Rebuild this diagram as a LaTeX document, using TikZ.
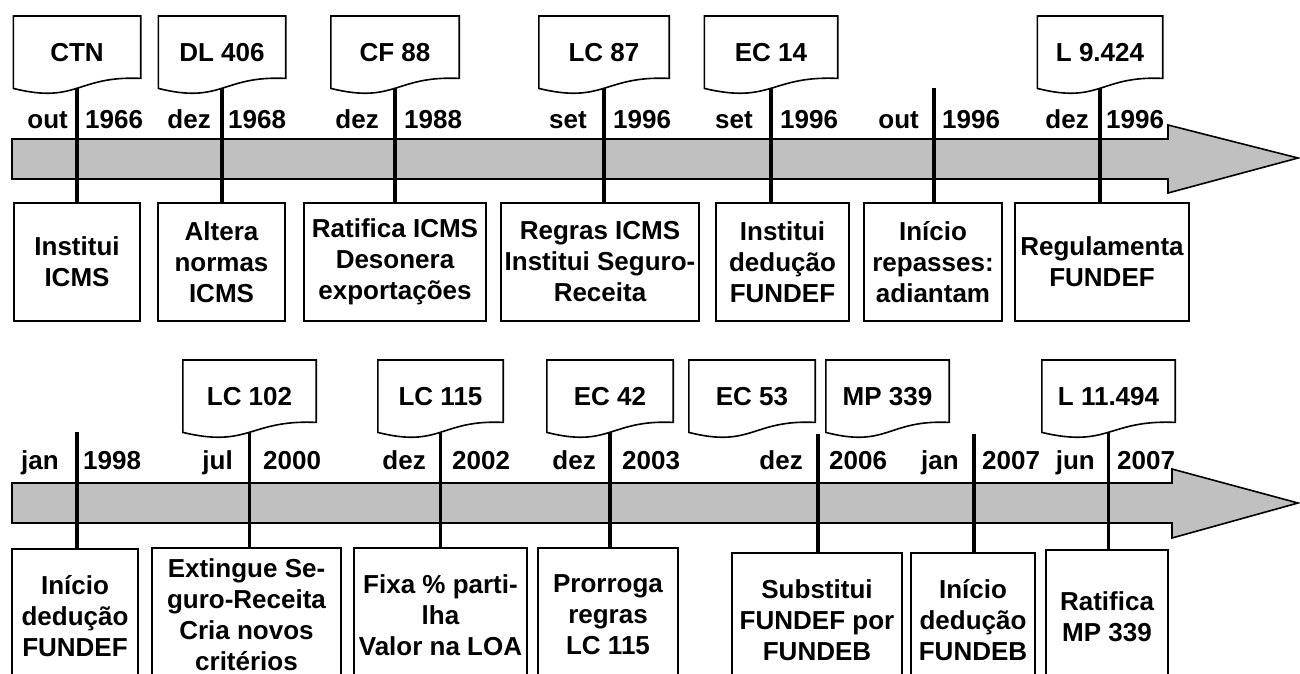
\documentclass[tikz,border=0pt]{standalone}
\usepackage{fontspec}
\setmainfont{Liberation Sans}
\usetikzlibrary{calc}

\definecolor{bandgray}{RGB}{192,192,192}
\tikzset{
  bigtxt/.style={font=\fontsize{26}{31}\selectfont\bfseries},
  lbl/.style={bigtxt, inner sep=0pt},
  box/.style={bigtxt, draw, line width=1.6pt, align=center, inner sep=2pt, minimum height=118},
  lowbox/.style={box, anchor=north, minimum height=134},
  doc/.style={bigtxt, anchor=north, minimum height=72, inner sep=0pt},
  docline/.style={line width=1.6pt},
  stem/.style={line width=3.2pt},
  band/.style={draw, line width=1.6pt, fill=bandgray}
}
% outline of a document node: flat top, wavy bottom
\newcommand{\docwave}[1]{\draw[docline] (#1.south west) -- (#1.north west) -- (#1.north east) -- ($(#1.south east)+(0,-10)$) .. controls ($(#1.south)+(0,-13)$) and ($(#1.south)+(0,16)$) .. (#1.south west) -- cycle;}

\begin{document}
\begin{tikzpicture}[x=1pt,y=-1pt]
\useasboundingbox (0,0) rectangle (1300,673);
\clip (0,0) rectangle (1300,673);

% first period
\draw[band] (12,139) -- (1168,139) -- (1168,125) -- (1298,158) -- (1168,193) -- (1168,179) -- (12,179) -- cycle;

\node[doc, minimum width=127] (ctn) at (77,16) {CTN};
\node[doc, minimum width=127] (dl406) at (222,16) {DL 406};
\node[doc, minimum width=128] (cf88) at (395,16) {CF 88};
\node[doc, minimum width=130] (lc87) at (604,16) {LC 87};
\node[doc, minimum width=133] (ec14) at (771,16) {EC 14};
\node[doc, minimum width=125] (l9424) at (1100,16) {L 9.424};
\foreach \d in {ctn,dl406,cf88,lc87,ec14,l9424} {\docwave{\d}}
\coordinate (t6) at (934,88);

\node[box, minimum width=126] (b1) at (77,262) {Institui\\ICMS};
\node[box, minimum width=127] (b2) at (221.5,262) {Altera\\normas\\ICMS};
\node[box, minimum width=182] (b3) at (395,262) {Ratifica ICMS\\Desonera\\exportações};
\node[box, minimum width=198] (b4) at (600,262) {Regras ICMS\\Institui Seguro-\\Receita};
\node[box, minimum width=133] (b5) at (782.5,262) {Institui\\dedução\\FUNDEF};
\node[box, minimum width=138] (b6) at (933,262) {Início\\repasses:\\adiantam};
\node[box, minimum width=174] (b7) at (1102,262) {Regulamenta\\FUNDEF};

\draw[stem] (ctn.south) -- (ctn.south |- b1.north);
\draw[stem] (dl406.south) -- (dl406.south |- b2.north);
\draw[stem] (cf88.south) -- (cf88.south |- b3.north);
\draw[stem] (lc87.south) -- (lc87.south |- b4.north);
\draw[stem] (ec14.south) -- (ec14.south |- b5.north);
\draw[stem] (t6) -- (t6 |- b6.north);
\draw[stem] (l9424.south) -- (l9424.south |- b7.north);

\foreach \n/\me/\mo/\ys/\yr in {1/68/out/85/1966, 2/211/dez/228/1968, 3/379/dez/404/1988,
    4/587/set/613/1996, 5/753/set/780/1996, 6/919/out/942/1996, 7/1089/dez/1106/1996} {
  \node[lbl, anchor=base east] (mt\n) at (\me,128) {\mo};
  \node[lbl, anchor=base west] (yt\n) at (\ys,128) {\yr};
}

% second period
\draw[band] (12,483) -- (1172,483) -- (1172,469) -- (1298,503) -- (1172,538) -- (1172,523) -- (12,523) -- cycle;

\node[doc, minimum width=133] (lc102) at (249.5,360) {LC 102};
\node[doc, minimum width=125] (lc115) at (440.5,360) {LC 115};
\node[doc, minimum width=126] (ec42) at (610,360) {EC 42};
\node[doc, minimum width=126] (ec53) at (752,360) {EC 53};
\node[doc, minimum width=123] (mp339) at (887.5,360) {MP 339};
\node[doc, minimum width=133] (l11494) at (1108.5,360) {L 11.494};
\foreach \d in {lc102,lc115,ec42,ec53,mp339,l11494} {\docwave{\d}}
\coordinate (s1) at (77,432);
\coordinate (s5) at (818,434);
\coordinate (s6) at (974,434);

\node[lowbox, minimum width=126] (c1) at (75,548) {Início\\dedução\\FUNDEF};
\node[lowbox, minimum width=189] (c2) at (246.5,547) {Extingue Se-\\guro-Receita\\Cria novos\\critérios};
\node[lowbox, minimum width=173] (c3) at (440.5,547) {Fixa \% parti-\\lha\\Valor na LOA};
\node[lowbox, minimum width=140] (c4) at (608,547) {Prorroga\\regras\\LC 115};
\node[lowbox, minimum width=170] (c5) at (817,552) {Substitui\\FUNDEF por\\FUNDEB};
\node[lowbox, minimum width=124] (c6) at (973,552) {Início\\dedução\\FUNDEB};
\node[lowbox, minimum width=122] (c7) at (1107,549) {Ratifica\\MP 339};

\draw[stem] (s1) -- (s1 |- c1.north);
\draw[stem] (lc102.south) -- (lc102.south |- c2.north);
\draw[stem] (lc115.south) -- (lc115.south |- c3.north);
\draw[stem] (ec42.south) -- (ec42.south |- c4.north);
\draw[stem] (s5) -- (s5 |- c5.north);
\draw[stem] (s6) -- (s6 |- c6.north);
\draw[stem] (l11494.south) -- (l11494.south |- c7.north);

\foreach \n/\me/\mo/\ys/\yr in {1/59/jan/83/1998, 2/233/jul/263/2000, 3/426/dez/452/2002,
    4/596/dez/622/2003, 5/803/dez/829/2006, 6/959/jan/982/2007, 7/1095/jun/1117/2007} {
  \node[lbl, anchor=base east] (mb\n) at (\me,469) {\mo};
  \node[lbl, anchor=base west] (yb\n) at (\ys,469) {\yr};
}
\end{tikzpicture}
\end{document}
